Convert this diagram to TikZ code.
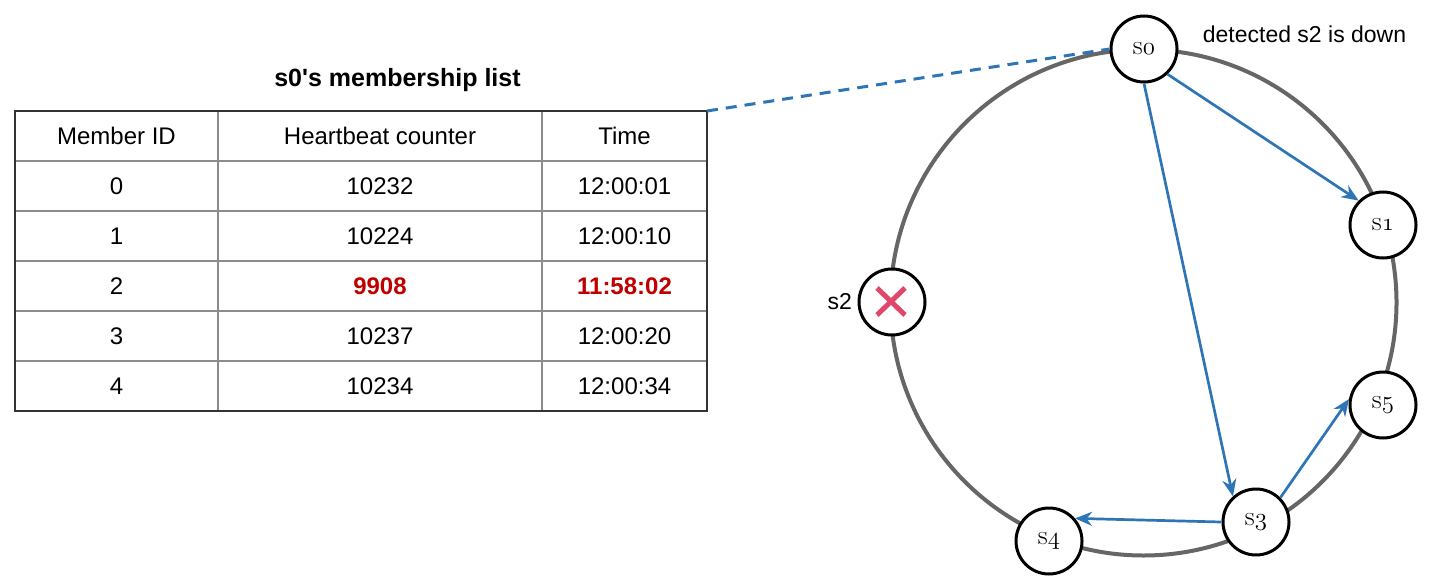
\documentclass[tikz,border=0pt]{standalone}
\usepackage{fontspec}
\newfontfamily\arialf{Liberation Sans}
\usetikzlibrary{arrows.meta}
\definecolor{ringgray}{HTML}{666666}
\definecolor{arrblue}{HTML}{2E75B6}
\definecolor{darkred}{HTML}{C00000}
\definecolor{crossred}{HTML}{E0476B}
\definecolor{tblborder}{HTML}{333333}
\definecolor{tblinner}{HTML}{8C8C8C}
\newcommand{\osn}[1]{{\usefont{OML}{cmm}{m}{it}#1}}
\newcommand{\srvlbl}[1]{\raisebox{-3.5pt}{s\osn{#1}}}
\begin{document}
\begin{tikzpicture}[x=1pt,y=-1pt,
  srv/.style={circle,draw=black,line width=3pt,fill=white,minimum size=66pt,inner sep=0pt,font=\fontsize{27.5}{30}\selectfont},
  msg/.style={draw=arrblue,line width=2.7pt,-{Stealth[length=17pt,width=14pt]}},
  cell/.style={font=\arialf\fontsize{24}{28}\selectfont,inner sep=0pt},
  hot/.style={cell,font=\arialf\bfseries\fontsize{24}{28}\selectfont,text=darkred},
  lbl/.style={font=\arialf\fontsize{23}{28}\selectfont,inner sep=0pt}]
\useasboundingbox (0,0) rectangle (1429,586);

% ring
\draw[ringgray,line width=4pt] (1143.5,302.5) circle[radius=253];

% servers
\node[srv] (s0) at (1144,49) {\srvlbl{0}};
\node[srv] (s1) at (1383,225) {\srvlbl{1}};
\node[srv] (s2) at (892,302) {};
\node[srv] (s3) at (1256,522) {\srvlbl{3}};
\node[srv] (s4) at (1049,541) {\srvlbl{4}};
\node[srv] (s5) at (1383,405) {\srvlbl{5}};

% cross in s2
\draw[crossred,line width=5pt] (877,288) -- (905,315);
\draw[crossred,line width=5pt] (905,288) -- (877,315);

% labels
\node[lbl,anchor=east] (s2lbl) at (852,302) {s2};
\node[lbl] (det) at (1304.5,34) {detected s2 is down};

% arrows
\draw[msg] (s0.-47) -- (s1.135);
\draw[msg] (s0.south) -- (s3.132);
\draw[msg] (s3.west) -- (s4.41);
\draw[msg] (s3.45) -- (s5.170);

% table
\node[font=\arialf\bfseries\fontsize{25}{30}\selectfont,inner sep=0pt] (title) at (397.5,80) {s0's membership list};
\foreach \yy in {161,211,261,311,361} \draw[tblinner,line width=2pt] (15,\yy) -- (707,\yy);
\foreach \xx in {218,542} \draw[tblinner,line width=2pt] (\xx,111) -- (\xx,411);
\draw[tblborder,line width=2pt] (15,111) rectangle (707,411);
\coordinate (tr) at (707,111);

\node[cell] (h1) at (116.5,136) {Member ID};
\node[cell] (h2) at (380,136) {Heartbeat counter};
\node[cell] (h3) at (624.5,136) {Time};

\node[cell] (a1) at (116.5,186) {0};
\node[cell] (a2) at (380,186) {10232};
\node[cell] (a3) at (624.5,186) {12:00:01};

\node[cell] (b1) at (116.5,236) {1};
\node[cell] (b2) at (380,236) {10224};
\node[cell] (b3) at (624.5,236) {12:00:10};

\node[cell] (c1) at (116.5,286) {2};
\node[hot] (c2) at (380,286) {9908};
\node[hot] (c3) at (624.5,286) {11:58:02};

\node[cell] (d1) at (116.5,336) {3};
\node[cell] (d2) at (380,336) {10237};
\node[cell] (d3) at (624.5,336) {12:00:20};

\node[cell] (e1) at (116.5,386) {4};
\node[cell] (e2) at (380,386) {10234};
\node[cell] (e3) at (624.5,386) {12:00:34};

% dashed link
\draw[arrblue,line width=3pt,dash pattern=on 11pt off 8pt] (tr) -- (s0.west);
\end{tikzpicture}
\end{document}
